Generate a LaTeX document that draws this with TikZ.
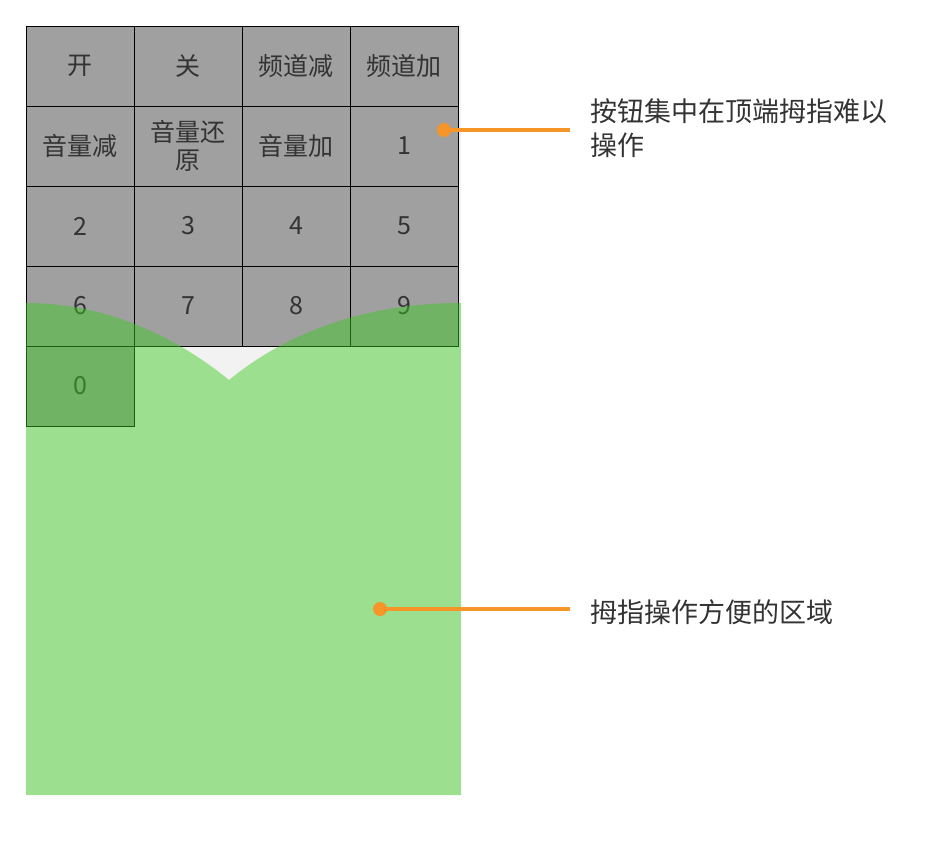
\documentclass[tikz,border=0pt]{standalone}
\usepackage{fontspec}
\setmainfont{Noto Sans CJK SC}
\begin{document}
\begin{tikzpicture}[x=1pt,y=-1pt,
  cell/.style={draw=black,fill=cellgray,minimum width=108pt,minimum height=80pt,inner sep=0pt,font=\fontsize{25}{28}\selectfont,text=txt,align=center,line width=1pt},
  lab/.style={anchor=west,font=\fontsize{27}{34}\selectfont,text=txt,align=left,inner sep=0pt},
  lead/.style={draw=orng,line width=4pt},
  dotc/.style={circle,fill=orng,inner sep=0pt,minimum size=14pt}]
\definecolor{cellgray}{RGB}{160,160,160}
\definecolor{txt}{RGB}{51,51,51}
\definecolor{orng}{RGB}{247,150,40}
\definecolor{grn}{RGB}{59,202,34}
\definecolor{bg}{RGB}{242,242,242}
\useasboundingbox (0,0) rectangle (932,846);
\fill[bg] (26,26) rectangle (461,795);
\foreach \t [count=\i from 0] in {开,关,频道减,频道加,音量减,音量还\\原,音量加,1,2,3,4,5,6,7,8,9,0}{
  \pgfmathtruncatemacro{\c}{mod(\i,4)}
  \pgfmathtruncatemacro{\r}{div(\i,4)}
  \node[cell] (c\i) at ({80+108*\c},{66+80*\r}) {\t};
}
\fill[grn,fill opacity=0.476] (26,303) .. controls (110,303) and (180,340) .. (229,380)
  .. controls (290,330) and (370,303) .. (461,303) -- (461,795) -- (26,795) -- cycle;
\node[dotc] (d1) at (444,130) {};
\node[dotc] (d2) at (380,609) {};
\coordinate (e1) at (570,130);
\coordinate (e2) at (570,609);
\draw[lead] (d1.center) -- (e1);
\draw[lead] (d2.center) -- (e2);
\node[lab] (l1) at (590,128) {按钮集中在顶端拇指难以\\操作};
\node[lab] (l2) at (590,612) {拇指操作方便的区域};
\end{tikzpicture}
\end{document}
